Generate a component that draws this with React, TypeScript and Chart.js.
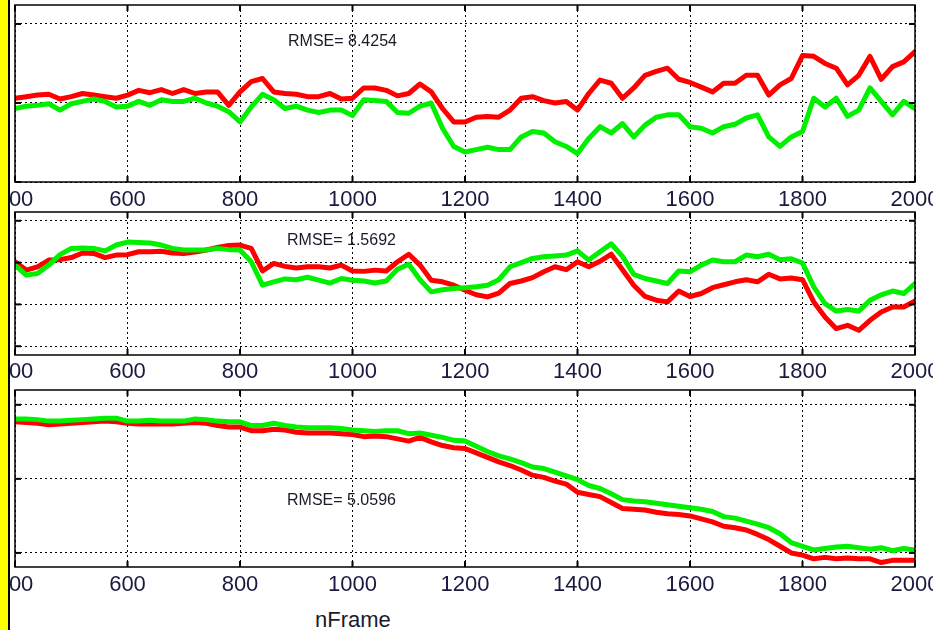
import React, { useEffect, useRef } from 'react';
import { Chart, registerables } from 'chart.js';
Chart.register(...registerables);

const FONT = '"Liberation Sans", Arial, Helvetica, sans-serif';

// frame numbers (x), every 20 frames from 400 to 2000
const FRAMES: number[] = Array.from({ length: 81 }, (_, i) => 400 + i * 20);
const X_TICKS = [400, 600, 800, 1000, 1200, 1400, 1600, 1800, 2000];

// Panel 1 (RMSE = 8.4254)
const P1_RED = [
  10.6, 10.8, 11.0, 11.1, 10.5, 10.8, 11.2, 11.0, 10.8, 10.6,
  11.0, 11.6, 11.3, 11.7, 11.2, 11.7, 11.2, 11.4, 11.4, 9.7,
  11.4, 12.7, 13.1, 11.4, 11.2, 11.1, 10.8, 10.8, 11.2, 10.5,
  10.6, 11.9, 11.9, 11.6, 10.9, 11.2, 12.4, 11.4, 9.3, 7.6,
  7.6, 8.2, 8.3, 8.2, 9.1, 10.6, 10.8, 10.3, 10.0, 10.2,
  9.1, 11.2, 12.9, 12.5, 10.6, 11.9, 13.5, 14.0, 14.4, 13.0,
  12.6, 12.0, 11.4, 12.5, 12.5, 13.5, 13.5, 11.0, 12.3, 13.1,
  16.0, 15.9, 15.0, 14.4, 12.3, 13.5, 15.9, 13.0, 14.6, 15.2,
  16.5,
];
const P1_GREEN = [
  9.3, 9.6, 9.7, 9.9, 9.1, 9.9, 10.2, 10.5, 10.2, 9.5,
  9.6, 10.2, 9.7, 10.4, 10.2, 10.2, 10.6, 10.0, 9.6, 8.9,
  7.6, 9.5, 11.1, 10.4, 9.3, 9.6, 9.1, 8.8, 9.1, 9.1,
  8.4, 10.4, 10.3, 10.2, 8.8, 8.7, 9.6, 10.0, 6.8, 4.5,
  3.8, 4.1, 4.4, 4.1, 4.1, 5.7, 6.4, 6.2, 5.1, 4.5,
  3.6, 5.5, 7.0, 6.2, 7.4, 5.7, 7.2, 8.2, 8.5, 8.5,
  7.0, 6.8, 6.2, 7.0, 7.3, 8.1, 8.5, 5.7, 4.5, 5.7,
  6.4, 10.6, 9.5, 10.6, 8.3, 9.1, 11.9, 10.2, 8.5, 10.2,
  9.3,
];

// Panel 2 (RMSE = 1.5692)
const P2_RED = [
  20.2, 18.2, 19.0, 20.6, 20.7, 21.2, 22.3, 22.2, 21.2, 21.8,
  21.9, 22.6, 22.6, 22.7, 22.3, 22.2, 22.5, 23.0, 23.6, 24.1,
  24.2, 23.4, 18.0, 19.8, 19.1, 18.7, 19.0, 19.0, 18.7, 19.4,
  18.0, 17.9, 18.2, 18.0, 20.2, 22.0, 19.4, 15.8, 15.4, 14.6,
  13.4, 12.3, 11.8, 12.7, 15.0, 15.6, 16.4, 17.8, 19.0, 18.3,
  20.2, 19.0, 20.3, 22.0, 18.3, 14.6, 11.9, 11.0, 10.6, 13.2,
  11.9, 12.6, 14.0, 14.7, 15.4, 15.9, 15.4, 17.2, 16.1, 16.3,
  15.9, 10.6, 7.0, 4.2, 5.0, 3.8, 6.2, 8.2, 9.4, 9.4,
  10.8,
];
const P2_GREEN = [
  19.4, 17.0, 17.4, 19.4, 21.9, 23.4, 23.5, 23.4, 22.8, 24.2,
  24.9, 24.8, 24.7, 24.2, 23.4, 23.0, 23.0, 23.0, 23.4, 23.1,
  23.0, 20.2, 14.6, 15.4, 16.1, 15.9, 16.5, 15.8, 15.1, 16.2,
  15.8, 15.6, 15.1, 15.6, 18.4, 19.6, 15.9, 13.0, 13.5, 13.8,
  14.0, 14.2, 14.6, 15.9, 19.0, 20.0, 21.0, 21.4, 21.6, 21.8,
  22.8, 20.6, 22.6, 24.5, 21.5, 17.2, 16.2, 15.6, 15.0, 18.0,
  17.8, 19.4, 20.6, 20.2, 20.2, 21.8, 21.4, 22.0, 20.7, 20.9,
  19.9, 14.2, 10.2, 8.4, 8.8, 8.4, 11.0, 12.3, 13.2, 12.6,
  15.0,
];

// Panel 3 (RMSE = 5.0596)
const P3_RED = [
  17.7, 17.6, 17.5, 17.3, 17.4, 17.5, 17.6, 17.7, 17.8, 17.7,
  17.5, 17.4, 17.4, 17.4, 17.4, 17.5, 17.6, 17.5, 17.2, 17.0,
  17.0, 16.5, 16.5, 16.7, 16.6, 16.3, 16.2, 16.2, 16.2, 16.1,
  16.0, 15.7, 15.8, 15.7, 15.4, 15.1, 15.6, 15.0, 14.5, 14.2,
  14.1, 13.5, 12.9, 12.3, 11.8, 11.2, 10.5, 10.2, 9.7, 9.3,
  8.2, 7.9, 7.6, 6.8, 6.0, 5.9, 5.8, 5.5, 5.3, 5.2,
  5.0, 4.6, 4.2, 3.6, 3.4, 3.1, 2.5, 1.8, 0.9, 0.0,
  -0.3, -0.8, -0.6, -0.8, -0.7, -0.8, -0.8, -1.3, -1.0, -1.0,
  -1.0,
];
const P3_GREEN = [
  18.1, 18.1, 18.0, 17.8, 17.8, 17.9, 18.0, 18.1, 18.2, 18.2,
  17.8, 17.8, 17.9, 17.8, 17.8, 17.8, 18.1, 18.0, 17.8, 17.7,
  17.7, 17.2, 17.2, 17.5, 17.2, 17.0, 16.9, 16.9, 16.9, 16.8,
  16.6, 16.5, 16.4, 16.5, 16.5, 16.1, 16.2, 15.9, 15.6, 15.2,
  15.1, 14.4, 13.7, 13.1, 12.7, 12.2, 11.6, 11.4, 10.9, 10.4,
  9.9, 9.1, 8.7, 8.0, 7.2, 7.0, 6.9, 6.7, 6.5, 6.3,
  6.1, 5.9, 5.6, 4.9, 4.7, 4.3, 3.9, 3.4, 2.6, 1.4,
  0.9, 0.4, 0.6, 0.8, 0.9, 0.7, 0.5, 0.7, 0.3, 0.6,
  0.4,
];

const RMSE_LABELS = ['RMSE= 8.4254', 'RMSE= 1.5692', 'RMSE= 5.0596'];
const X_TITLE = 'nFrame';

const boxPlugin = {
  id: 'matlabBox',
  afterDraw(chart: any) {
    const { ctx, chartArea: a, scales } = chart;
    ctx.save();
    ctx.strokeStyle = '#000';
    ctx.lineWidth = 1.5;
    ctx.setLineDash([]);
    ctx.strokeRect(a.left, a.top, a.right - a.left, a.bottom - a.top);
    ctx.lineWidth = 2;
    const L = 6;
    const seg = (x1: number, y1: number, x2: number, y2: number) => {
      ctx.beginPath();
      ctx.moveTo(x1, y1);
      ctx.lineTo(x2, y2);
      ctx.stroke();
    };
    scales.x.ticks.forEach((t: any) => {
      const px = scales.x.getPixelForValue(t.value);
      seg(px, a.top, px, a.top + L);
      seg(px, a.bottom, px, a.bottom - L);
    });
    scales.y.ticks.forEach((t: any) => {
      const py = scales.y.getPixelForValue(t.value);
      seg(a.left, py, a.left + L, py);
      seg(a.right, py, a.right - L, py);
    });
    ctx.restore();
  },
};

type PanelProps = {
  top: number;
  height: number;
  padTop: number;
  axisH: number;
  tickPad: number;
  yMin: number;
  yMax: number;
  yTicks: number[];
  red: number[];
  green: number[];
};

function Panel(p: PanelProps) {
  const ref = useRef<HTMLCanvasElement | null>(null);
  useEffect(() => {
    if (!ref.current) return;
    const grid = { color: '#000', lineWidth: 1, drawTicks: false };
    const border = { display: false, dash: [2, 3] };
    const chart = new Chart(ref.current, {
      type: 'line',
      data: {
        datasets: [
          {
            data: FRAMES.map((f, i) => ({ x: f, y: p.red[i] })),
            borderColor: '#ff0000',
            borderWidth: 5,
            pointRadius: 0,
            tension: 0,
            borderJoinStyle: 'round',
            borderCapStyle: 'round',
            order: 1,
          },
          {
            data: FRAMES.map((f, i) => ({ x: f, y: p.green[i] })),
            borderColor: '#00f000',
            borderWidth: 5,
            pointRadius: 0,
            tension: 0,
            borderJoinStyle: 'round',
            borderCapStyle: 'round',
            order: 0,
          },
        ],
      },
      options: {
        responsive: false,
        animation: false,
        events: [],
        layout: { padding: { left: 55, right: 58, top: p.padTop, bottom: 0 } },
        plugins: { legend: { display: false }, tooltip: { enabled: false } },
        scales: {
          x: {
            type: 'linear',
            min: 400,
            max: 2000,
            afterBuildTicks: (s: any) => {
              s.ticks = X_TICKS.map((v) => ({ value: v }));
            },
            afterFit: (s: any) => {
              s.height = p.axisH;
            },
            ticks: {
              autoSkip: false,
              maxRotation: 0,
              padding: p.tickPad,
              color: '#1a1a40',
              font: { family: FONT, size: 22 },
              callback: (v: any) => String(v),
            },
            grid,
            border,
          },
          y: {
            type: 'linear',
            min: p.yMin,
            max: p.yMax,
            afterBuildTicks: (s: any) => {
              s.ticks = p.yTicks.map((v) => ({ value: v }));
            },
            afterFit: (s: any) => {
              s.width = 0;
            },
            ticks: { display: false },
            grid,
            border,
          },
        },
      } as any,
      plugins: [boxPlugin],
    });
    return () => chart.destroy();
  }, []);
  return (
    <canvas
      ref={ref}
      width={1013}
      height={p.height}
      style={{ position: 'absolute', left: -40, top: p.top, width: 1013, height: p.height }}
    />
  );
}

const textStyle = (left: number, top: number, size: number): React.CSSProperties => ({
  position: 'absolute',
  left,
  top,
  fontFamily: FONT,
  fontSize: size,
  lineHeight: `${size}px`,
  color: '#1a1a2a',
  whiteSpace: 'nowrap',
  zIndex: 3,
});

export default function App() {
  return (
    <div
      style={{
        position: 'absolute',
        left: 0,
        top: 0,
        width: 933,
        height: 630,
        overflow: 'hidden',
        background: '#fff',
      }}
    >
      <Panel top={0} height={210} padTop={5} axisH={28} tickPad={5} yMin={0} yMax={22.4} yTicks={[0, 10, 20]} red={P1_RED} green={P1_GREEN} />
      <Panel top={210} height={176} padTop={2} axisH={31} tickPad={4} yMin={-2.1} yMax={32.1} yTicks={[0, 10, 20, 30]} red={P2_RED} green={P2_GREEN} />
      <Panel top={386} height={214} padTop={4} axisH={33} tickPad={5} yMin={-1.9} yMax={22.0} yTicks={[0, 10, 20]} red={P3_RED} green={P3_GREEN} />
      <div style={textStyle(288, 33, 16)}>{RMSE_LABELS[0]}</div>
      <div style={textStyle(287, 232, 16)}>{RMSE_LABELS[1]}</div>
      <div style={textStyle(287, 492, 16)}>{RMSE_LABELS[2]}</div>
      <div style={textStyle(315, 609, 22)}>{X_TITLE}</div>
      <div style={{ position: 'absolute', left: 0, top: 0, width: 8, height: 630, background: '#ffff00', zIndex: 4 }} />
      <div style={{ position: 'absolute', left: 8, top: 0, width: 2, height: 630, background: '#000', zIndex: 4 }} />
    </div>
  );
}
